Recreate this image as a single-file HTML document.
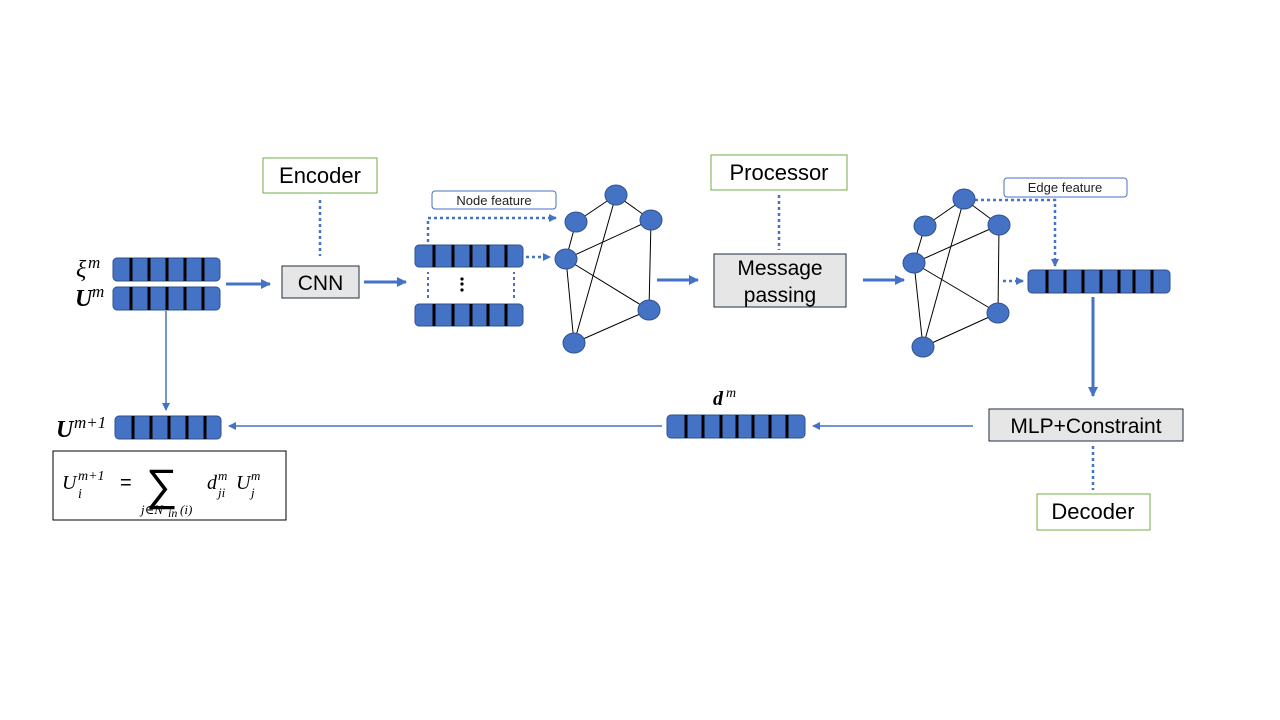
<!DOCTYPE html>
<html><head><meta charset="utf-8"><style>
html,body{margin:0;padding:0;background:#fff;}
svg{display:block;}
text{font-family:"Liberation Sans",sans-serif;}
.m{font-family:"Liberation Serif","DejaVu Serif",serif;font-style:italic;}
</style></head><body>
<svg width="1280" height="720" viewBox="0 0 1280 720" xmlns="http://www.w3.org/2000/svg">
<defs>
<marker id="a" markerWidth="8" markerHeight="8" refX="7" refY="4" orient="auto" markerUnits="userSpaceOnUse"><path d="M0,0 L8,4 L0,8 z" fill="#4472c4"/></marker>
<marker id="as" markerWidth="10" markerHeight="10" refX="9" refY="5" orient="auto" markerUnits="userSpaceOnUse"><path d="M0,0 L10,5 L0,10 z" fill="#4472c4"/></marker>
</defs>
<g fill="#4472c4" stroke="#2f528f" stroke-width="1">
<rect x="113" y="258" width="107" height="23" rx="4"/>
<rect x="113" y="287" width="107" height="23" rx="4"/>
<rect x="115" y="416" width="106" height="23" rx="4"/>
<rect x="415" y="245" width="108" height="22" rx="4"/>
<rect x="415" y="304" width="108" height="22" rx="4"/>
<rect x="1028" y="270" width="142" height="23" rx="4"/>
<rect x="667" y="415" width="138" height="23" rx="4"/>
</g>
<g stroke="#000" stroke-width="3">
<path d="M131 258v23M149 258v23M167 258v23M185 258v23M203 258v23"/>
<path d="M131 287v23M149 287v23M167 287v23M185 287v23M203 287v23"/>
<path d="M133 416v23M151 416v23M169 416v23M187 416v23M205 416v23"/>
<path d="M434 245v22M453 245v22M471 245v22M488 245v22M506 245v22"/>
<path d="M434 304v22M453 304v22M471 304v22M488 304v22M506 304v22"/>
<path d="M1047 270v23M1065 270v23M1083 270v23M1101 270v23M1119 270v23M1134 270v23M1152 270v23"/>
<path d="M686 415v23M703 415v23M721 415v23M737 415v23M753 415v23M770 415v23M787 415v23"/>
</g>
<text x="76" y="277" class="m" font-size="24">ξ</text><text x="88" y="268" class="m" font-size="17">m</text>
<text x="75" y="306" class="m" font-size="24" font-weight="bold">U</text><text x="92" y="297" class="m" font-size="17">m</text>
<text x="56" y="437" class="m" font-size="24" font-weight="bold">U</text><text x="74" y="428" class="m" font-size="17">m+1</text>
<text x="713" y="405" class="m" font-size="20" font-weight="bold">d</text><text x="726" y="397" class="m" font-size="14">m</text>
<!-- thick arrows -->
<g stroke="#4472c4" stroke-width="3" fill="none">
<line x1="226" y1="284" x2="270" y2="284" marker-end="url(#as)"/>
<line x1="364" y1="282" x2="406" y2="282" marker-end="url(#as)"/>
<line x1="657" y1="280" x2="698" y2="280" marker-end="url(#as)"/>
<line x1="863" y1="280" x2="904" y2="280" marker-end="url(#as)"/>
<line x1="1093" y1="297" x2="1093" y2="396" marker-end="url(#as)"/>
</g>
<g stroke="#4472c4" stroke-width="1.5" fill="none">
<line x1="166" y1="311" x2="166" y2="410" marker-end="url(#a)"/>
<line x1="973" y1="426" x2="813" y2="426" marker-end="url(#a)"/>
<line x1="662" y1="426" x2="229" y2="426" marker-end="url(#a)"/>
</g>
<!-- dotted -->
<g stroke="#4472c4" stroke-width="2.5" stroke-dasharray="3,3" fill="none">
<line x1="320" y1="200" x2="320" y2="256"/>
<line x1="779" y1="195" x2="779" y2="250"/>
<line x1="1093" y1="446" x2="1093" y2="490"/>
<line x1="428" y1="298" x2="428" y2="272" stroke-width="2"/>
<line x1="514" y1="298" x2="514" y2="272" stroke-width="2"/>
<polyline points="428,242 428,218 556,218" marker-end="url(#a)"/>
<line x1="526" y1="257" x2="550" y2="257" marker-end="url(#a)"/>
<polyline points="975,200 1055,200 1055,266" marker-end="url(#a)"/>
<line x1="1003" y1="281" x2="1023" y2="281" marker-end="url(#a)"/>
</g>
<g fill="#000"><circle cx="462" cy="279" r="1.6"/><circle cx="462" cy="284" r="1.6"/><circle cx="462" cy="290" r="1.6"/></g>
<!-- boxes -->
<rect x="282" y="266" width="77" height="32" fill="#e7e6e6" stroke="#1f2d3d" stroke-width="1"/>
<text x="320.5" y="290" font-size="21" text-anchor="middle">CNN</text>
<rect x="714" y="254" width="132" height="53" fill="#e7e6e6" stroke="#1f2d3d" stroke-width="1"/>
<text x="780" y="275" font-size="21" text-anchor="middle">Message</text>
<text x="780" y="302" font-size="21" text-anchor="middle">passing</text>
<rect x="989" y="409" width="194" height="32" fill="#e7e6e6" stroke="#1f2d3d" stroke-width="1"/>
<text x="1086" y="433" font-size="21" text-anchor="middle">MLP+Constraint</text>
<g fill="#fff" stroke="#70ad47" stroke-width="1">
<rect x="263" y="158" width="114" height="35"/>
<rect x="711" y="155" width="136" height="35"/>
<rect x="1037" y="494" width="113" height="36"/>
</g>
<text x="320" y="183" font-size="22" text-anchor="middle">Encoder</text>
<text x="779" y="180" font-size="22" text-anchor="middle">Processor</text>
<text x="1093" y="519" font-size="22" text-anchor="middle">Decoder</text>
<g fill="#fff" stroke="#4472c4" stroke-width="1">
<rect x="432" y="191" width="124" height="18" rx="3"/>
<rect x="1004" y="178" width="123" height="19" rx="3"/>
</g>
<text x="494" y="205" font-size="13" text-anchor="middle" fill="#222">Node feature</text>
<text x="1065" y="192" font-size="13" text-anchor="middle" fill="#222">Edge feature</text>
<!-- graphs -->
<g stroke="#000" stroke-width="1">
<path d="M616 195L576 222M616 195L651 220M616 195L574 343M576 222L566 259M566 259L651 220M566 259L649 310M566 259L574 343M651 220L649 310M649 310L574 343"/>
<path d="M964 199L925 226M964 199L999 225M964 199L923 347M925 226L914 263M914 263L999 225M914 263L998 313M914 263L923 347M999 225L998 313M998 313L923 347"/>
</g>
<g fill="#4472c4" stroke="#2f528f" stroke-width="1">
<ellipse cx="616" cy="195" rx="11" ry="10"/><ellipse cx="576" cy="222" rx="11" ry="10"/><ellipse cx="651" cy="220" rx="11" ry="10"/>
<ellipse cx="566" cy="259" rx="11" ry="10"/><ellipse cx="649" cy="310" rx="11" ry="10"/><ellipse cx="574" cy="343" rx="11" ry="10"/>
<ellipse cx="964" cy="199" rx="11" ry="10"/><ellipse cx="925" cy="226" rx="11" ry="10"/><ellipse cx="999" cy="225" rx="11" ry="10"/>
<ellipse cx="914" cy="263" rx="11" ry="10"/><ellipse cx="998" cy="313" rx="11" ry="10"/><ellipse cx="923" cy="347" rx="11" ry="10"/>
</g>
<!-- formula -->
<rect x="53" y="451" width="233" height="69" fill="#fff" stroke="#000" stroke-width="1"/>
<text x="62" y="489" class="m" font-size="20">U</text>
<text x="78" y="480" class="m" font-size="14">m+1</text>
<text x="78" y="498" class="m" font-size="14">i</text>
<text x="120" y="489" font-size="20" font-family="Liberation Serif,serif">=</text>
<text x="146" y="500" font-size="44" font-family="DejaVu Sans,sans-serif">∑</text>
<text x="141" y="514" class="m" font-size="13">j∈N</text>
<text x="168" y="517" class="m" font-size="12">in</text>
<text x="180" y="514" class="m" font-size="13">(i)</text>
<text x="207" y="489" class="m" font-size="20">d</text>
<text x="218" y="480" class="m" font-size="13">m</text>
<text x="218" y="497" class="m" font-size="13">ji</text>
<text x="236" y="489" class="m" font-size="20">U</text>
<text x="251" y="480" class="m" font-size="13">m</text>
<text x="251" y="497" class="m" font-size="13">j</text>
</svg>
</body></html>
